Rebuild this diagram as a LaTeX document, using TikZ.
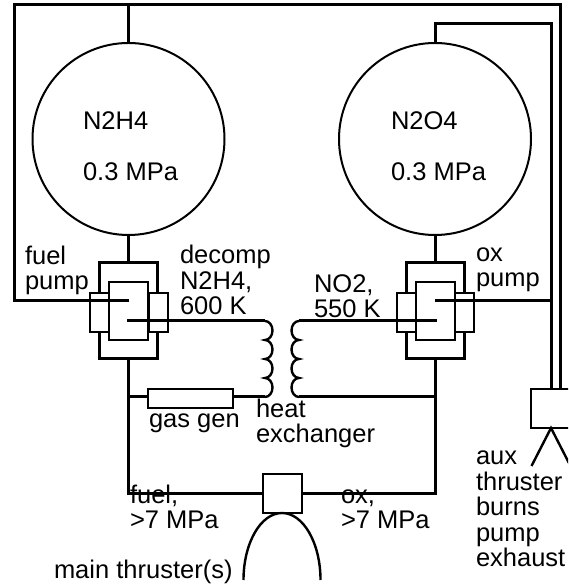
\documentclass[tikz,border=0pt]{standalone}
\usepackage{fontspec}
\setmainfont{Liberation Sans}
\tikzset{
	pipe/.style={black,line width=3pt},
	thinline/.style={black,line width=2pt},
	tank/.style={draw,thinline,circle,minimum size=192pt,inner sep=0,outer sep=0},
	casing/.style={draw,pipe,fill=white,minimum width=58pt,minimum height=96pt,inner sep=0,outer sep=0},
	rotor/.style={draw,thinline,fill=white,minimum width=39pt,minimum height=58pt,inner sep=0,outer sep=0},
	seal/.style={draw,thinline,fill=white,minimum width=19pt,minimum height=39pt,inner sep=0,outer sep=0},
	label/.style={anchor=base west,align=left,inner sep=0,outer sep=0,font=\fontsize{25.5}{25.5}\selectfont},
}
\begin{document}
\begin{tikzpicture}[x=1pt,y=1pt]
\path[use as bounding box,clip] (0,0) rectangle (568,585);
\foreach \name/\x in {fuel/128.5,ox/435} {
	\node[tank] (tank\name) at (\x,446) {};
	\node[casing] (casing\name) at (\x,274) {};
	\node[seal] (sealleft\name) at (\x-29,272.5) {};
	\node[seal] (sealright\name) at (\x+29.5,272.5) {};
	\node[rotor] (rotor\name) at (\x,274) {};
	\draw[pipe] (tank\name) -- (casing\name);
}
\node[draw,thinline,fill=white,minimum width=85pt,minimum height=19pt,inner sep=0,outer sep=0] (gasgen) at (190.5,186.5) {};
\node[draw,thinline,fill=white,minimum size=39pt,inner sep=0,outer sep=0] (injector) at (282.5,91.5) {};
\node[draw,thinline,fill=white,minimum width=40pt,minimum height=39pt,inner sep=0,outer sep=0] (auxbox) at (551,176.5) {};
% pressurant and pump exhaust lines
\coordinate (fuelshaft) at (129,284);
\coordinate (oxshaft) at (435,284);
\coordinate (topleft) at (14,580);
\coordinate (topright) at (560,580);
\coordinate (auxup) at (551,561);
\draw[pipe] (tankfuel.north) -- (tankfuel.north |- topleft);
\draw[pipe] (fuelshaft) -| (topleft) -- (topright) -- (topright |- auxbox.north);
\draw[pipe] (tankox.north) |- (auxup) -- (auxbox.north);
\draw[pipe] (oxshaft) -- (oxshaft -| auxbox.north);
% heat exchanger
\coordinate (coilfueltop) at (265,264);
\coordinate (coilfuelbot) at (265,188);
\coordinate (coiloxtop) at (299,264);
\coordinate (coiloxbot) at (299,188);
\coordinate (fuelfeed) at (127,264);
\coordinate (oxfeed) at (437,264);
\draw[pipe] (fuelfeed) -- (coilfueltop);
\draw[pipe] (oxfeed) -- (coiloxtop);
\draw[thinline,line width=2.4pt] (coilfueltop) arc (90:-90:7.5 and 9.5) arc (90:-90:7.5 and 9.5) arc (90:-90:7.5 and 9.5) arc (90:-90:7.5 and 9.5);
\draw[thinline,line width=2.4pt] (coiloxtop) arc (90:270:7.5 and 9.5) arc (90:270:7.5 and 9.5) arc (90:270:7.5 and 9.5) arc (90:270:7.5 and 9.5);
\draw[pipe] (coilfuelbot) -- (gasgen.east |- coilfuelbot);
\draw[pipe] (gasgen.west |- coilfuelbot) -- (casingfuel.south |- coilfuelbot);
\draw[pipe] (coiloxbot) -- (casingox.south |- coiloxbot);
% feed lines to the main thruster
\draw[pipe] (casingfuel.south) |- (injector.west);
\draw[pipe] (casingox.south) |- (injector.east);
% thrusters
\coordinate (nozzleleft) at (243.5,5);
\draw[thinline,line width=2.4pt] (nozzleleft) arc (180:0:38.5 and 67);
\coordinate (auxleft) at (531.5,119);
\coordinate (auxright) at (570.5,119);
\draw[thinline,line width=2.4pt] (auxleft) -- (auxbox.south) -- (auxright);
% labels
\node[label] (fuelname) at (83,455) {N2H4};
\node[label] (fuelpress) at (83,404) {0.3 MPa};
\node[label] (oxname) at (391,455) {N2O4};
\node[label] (oxpress) at (391,404) {0.3 MPa};
\node[label] (fuelpumplabel) at (25,295) {fuel\\pump};
\node[label] (decomplabel) at (180,270) {decomp\\N2H4,\\600 K};
\node[label] (no2label) at (314,267) {NO2,\\550 K};
\node[label] (oxpumplabel) at (476,298) {ox\\pump};
\node[label] (gasgenlabel) at (149,157) {gas gen};
\node[label] (hxlabel) at (256,142) {heat\\exchanger};
\node[label] (fuelfeedlabel) at (130,56) {fuel,\\>7 MPa};
\node[label] (oxfeedlabel) at (341,56) {ox,\\>7 MPa};
\node[label] (auxlabel) at (476,18) {aux\\thruster\\burns\\pump\\exhaust};
\node[label] (mainlabel) at (54,6) {main thruster(s)};
\end{tikzpicture}
\end{document}
